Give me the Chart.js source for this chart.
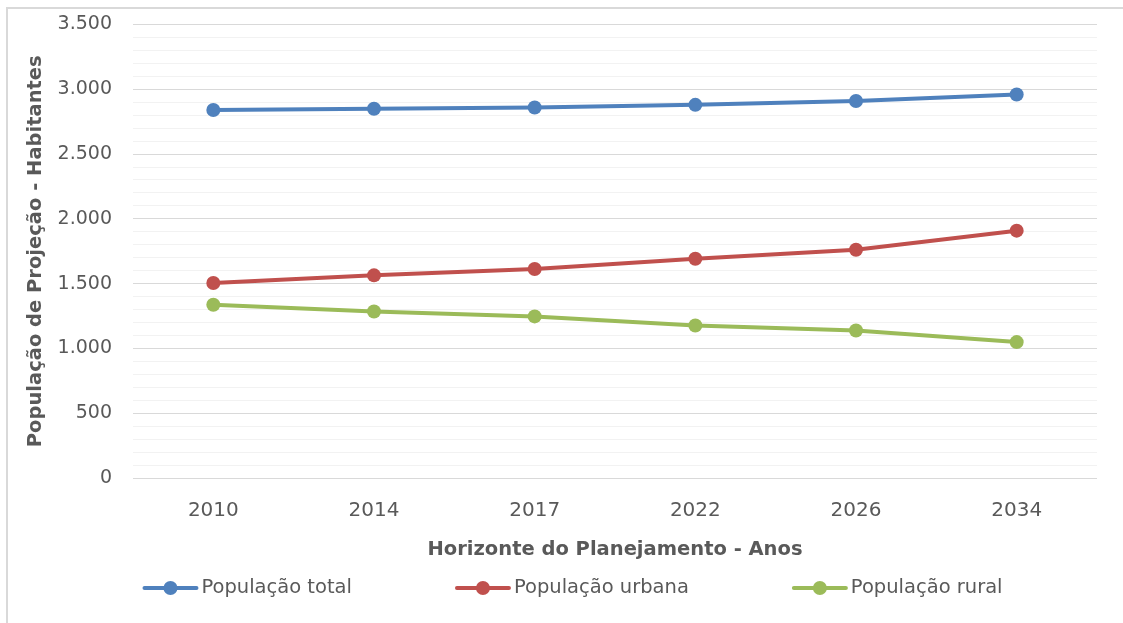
<!DOCTYPE html>
<html><head><meta charset="utf-8">
<script src="https://cdn.jsdelivr.net/npm/chart.js@4"></script>
<style>
html,body{margin:0;padding:0;background:#fff;}
#wrap{position:relative;width:1123px;height:623px;overflow:hidden;background:#fff;}
#frame{position:absolute;left:6px;top:7px;width:1117px;height:616px;border-top:2px solid #d9d9d9;border-left:2px solid #d9d9d9;box-sizing:border-box;}
canvas{position:absolute;left:0;top:0;}
</style></head><body>
<div id="wrap"><div id="frame"></div><canvas id="c" width="1123" height="623"></canvas></div>
<script>
const categories = ['2010', '2014', '2017', '2022', '2026', '2034'];
const populacaoTotal = [2840, 2850, 2860, 2880, 2910, 2960];
const populacaoUrbana = [1505, 1564, 1613, 1692, 1762, 1909];
const populacaoRural = [1337, 1285, 1247, 1177, 1138, 1049];
const seriesNames = ['População total', 'População urbana', 'População rural'];
const seriesColors = ['#4F81BD', '#C0504D', '#9BBB59'];
const yAxisTitle = 'População de Projeção - Habitantes';
const xAxisTitle = 'Horizonte do Planejamento - Anos';
const yMin = 0, yMax = 3500, yMajor = 500, yMinor = 100;

const FONT = '"DejaVu Sans", "Noto Sans", sans-serif';
const TXT = '#595959';

function fmt(v) {
  return String(v).replace(/\B(?=(\d{3})+(?!\d))/g, '.');
}

const legendPlugin = {
  id: 'excelLegend',
  afterDraw(chart) {
    const ctx = chart.ctx;
    const ds = chart.data.datasets;
    ctx.save();
    ctx.font = '19.5px ' + FONT;
    const lineW = 56, gapText = 3, gapItem = 103;
    const widths = ds.map(d => lineW + gapText + ctx.measureText(d.label).width);
    const total = widths.reduce((a, b) => a + b, 0) + gapItem * (ds.length - 1);
    let x = chart.width / 2 + 11 - total / 2;
    const y = chart.chartArea.bottom + 110;
    ds.forEach((d, i) => {
      ctx.strokeStyle = d.borderColor;
      ctx.lineWidth = 4;
      ctx.lineCap = 'round';
      ctx.beginPath();
      ctx.moveTo(x + 2, y);
      ctx.lineTo(x + lineW - 2, y);
      ctx.stroke();
      ctx.fillStyle = d.borderColor;
      ctx.beginPath();
      ctx.arc(x + lineW / 2, y, 7, 0, Math.PI * 2);
      ctx.fill();
      ctx.fillStyle = TXT;
      ctx.textBaseline = 'middle';
      ctx.textAlign = 'left';
      ctx.fillText(d.label, x + lineW + gapText, y);
      x += widths[i] + gapItem;
    });
    ctx.restore();
  }
};

function mkDs(label, data, color) {
  return {
    label, data,
    borderColor: color, backgroundColor: color,
    borderWidth: 4, pointRadius: 7, pointHoverRadius: 7,
    pointBackgroundColor: color, pointBorderColor: color, pointBorderWidth: 0,
    tension: 0, fill: false
  };
}

new Chart(document.getElementById('c'), {
  type: 'line',
  data: {
    labels: categories,
    datasets: [
      mkDs(seriesNames[0], populacaoTotal, seriesColors[0]),
      mkDs(seriesNames[1], populacaoUrbana, seriesColors[1]),
      mkDs(seriesNames[2], populacaoRural, seriesColors[2])
    ]
  },
  options: {
    responsive: false,
    animation: false,
    devicePixelRatio: 1,
    layout: { padding: { left: 0, right: 26, top: 24.5, bottom: 55 } },
    plugins: {
      legend: { display: false },
      tooltip: { enabled: false }
    },
    scales: {
      x: {
        offset: true,
        grid: { display: false, drawTicks: false },
        border: { display: false },
        ticks: { color: TXT, font: { family: FONT, size: 20 }, padding: 21, maxRotation: 0 },
        title: { display: true, text: xAxisTitle, color: TXT, font: { family: FONT, size: 19.5, weight: 'bold' }, padding: { top: 0, bottom: 6 } },
        afterFit(s) { s.height = 90; }
      },
      y: {
        min: yMin, max: yMax,
        grid: {
          drawTicks: false,
          color: c => (c.tick && c.tick.value % yMajor === 0) ? '#d9d9d9' : '#f2f2f2',
          lineWidth: 1
        },
        border: { display: false },
        ticks: {
          stepSize: yMinor, autoSkip: false, color: TXT,
          font: { family: FONT, size: 19 }, padding: 21,
          callback: v => (v % yMajor === 0 ? fmt(v) : '')
        },
        title: { display: true, text: yAxisTitle, color: TXT, font: { family: FONT, size: 19.5, weight: 'bold' }, padding: { top: 24, bottom: 0 } },
        afterFit(s) { s.width = 133; s.paddingTop = 0; s.paddingBottom = 0; }
      }
    }
  },
  plugins: [legendPlugin]
});
</script>
</body></html>
